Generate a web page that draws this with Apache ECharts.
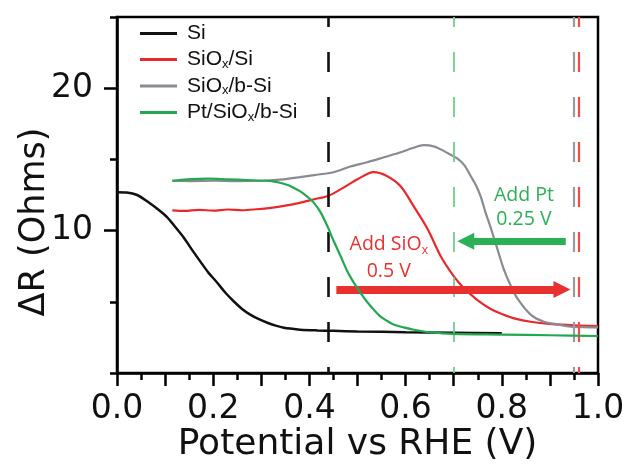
<!DOCTYPE html>
<html><head><meta charset="utf-8">
<script src="https://cdn.jsdelivr.net/npm/echarts@6/dist/echarts.min.js"></script>
<style>html,body{margin:0;padding:0;background:#fff}#c{width:622px;height:464px}</style>
</head><body><div id="c"></div>
<script>
// ---- data ----
const seriesNames = ['Si', 'SiOx/Si', 'SiOx/b-Si', 'Pt/SiOx/b-Si'];

const siX = [0, 0.02, 0.042, 0.069, 0.085, 0.104, 0.12, 0.139, 0.155, 0.173, 0.19, 0.208, 0.225, 0.243, 0.26, 0.277, 0.295, 0.3125, 0.33, 0.347, 0.365, 0.381, 0.417, 0.45, 0.5, 0.6, 0.7, 0.8];
const siY = [12.7, 12.68, 12.5, 11.9, 11.5, 10.95, 10.3, 9.5, 8.7, 7.84, 7.05, 6.36, 5.65, 5.02, 4.5, 4.1, 3.78, 3.53, 3.33, 3.18, 3.1, 3.04, 2.99, 2.96, 2.92, 2.87, 2.83, 2.8];

const sioxSiX = [0.115, 0.14, 0.17, 0.2, 0.23, 0.26, 0.29, 0.32, 0.35, 0.38, 0.41, 0.44, 0.47, 0.5, 0.533, 0.56, 0.59, 0.617, 0.646, 0.673, 0.70, 0.72, 0.75, 0.777, 0.8, 0.83, 0.86, 0.9, 0.95, 1.0];
const sioxSiY = [11.42, 11.38, 11.46, 11.4, 11.48, 11.43, 11.5, 11.6, 11.75, 11.95, 12.2, 12.45, 13.0, 13.6, 14.1, 13.85, 13.1, 11.7, 10.1, 8.2, 6.8, 6.0, 5.1, 4.5, 4.15, 3.8, 3.6, 3.45, 3.35, 3.3];

const sioxBSiX = [0.115, 0.15, 0.2, 0.25, 0.3, 0.346, 0.38, 0.41, 0.45, 0.485, 0.52, 0.555, 0.59, 0.615, 0.6375, 0.66, 0.679, 0.695, 0.708, 0.722, 0.735, 0.746, 0.756, 0.766, 0.777, 0.79, 0.804, 0.819, 0.833, 0.86, 0.8875, 0.917, 0.944, 0.97, 1.0];
const sioxBSiY = [13.5, 13.48, 13.5, 13.47, 13.5, 13.6, 13.75, 13.9, 14.1, 14.5, 14.8, 15.15, 15.5, 15.8, 16.0, 15.9, 15.6, 15.3, 15.05, 14.6, 13.85, 13.2, 12.4, 11.3, 10.2, 8.8, 7.3, 6.1, 5.2, 4.1, 3.6, 3.4, 3.25, 3.22, 3.2];

const ptX = [0.115, 0.146, 0.19, 0.23, 0.27, 0.31, 0.333, 0.35, 0.365, 0.381, 0.395, 0.408, 0.423, 0.4375, 0.45, 0.465, 0.478, 0.492, 0.507, 0.521, 0.535, 0.548, 0.562, 0.575, 0.596, 0.617, 0.658, 0.7, 0.8, 0.9, 1.0];
const ptY = [13.5, 13.6, 13.65, 13.6, 13.55, 13.5, 13.4, 13.25, 13.05, 12.75, 12.4, 12.0, 11.3, 10.3, 9.3, 8.2, 7.2, 6.36, 5.6, 4.95, 4.4, 3.96, 3.65, 3.4, 3.2, 3.04, 2.83, 2.75, 2.7, 2.65, 2.6];

const xTickLabels = [0, 0.2, 0.4, 0.6, 0.8, 1.0];
const yTickLabels = [10, 20];
const yMinorTicks = [0, 5, 15, 25];

// onset potentials (dashed lines): Si, Pt/SiOx/b-Si, SiOx/b-Si, SiOx/Si
const onsetX = [0.44, 0.698, 0.949, 0.965];

// arrows: [xStart, xEnd, y]
const arrowSiOx = [0.456, 0.925, 5.87];
const arrowPt = [0.933, 0.725, 9.26];

// annotation texts: [x, y]
const noteSiOx = [0.565, 9.0];
const noteSiOxV = [0.565, 7.14];
const notePt = [0.846, 12.44];
const notePtV = [0.846, 10.8];

// ---- styling ----
const colors = ['#111111', '#e8282b', '#8a8a93', '#22a84e'];
const dashColors = ['#111111', '#6fcf8f', '#9a9aa2', '#ee4b4b'];
const dashWidths = [2.6, 1.8, 2.2, 2.2];
const RED = '#e8312f', GREEN = '#2bb055';

function zip(xs, ys) { return xs.map((x, i) => [x, ys[i]]); }
function richName(name) {
  return name.split('Ox').map(p => p ? '{n|' + p + '}' : '').join('{n|O}{s|x}');
}

const chart = echarts.init(document.getElementById('c'), null, { renderer: 'canvas' });

const seriesData = [zip(siX, siY), zip(sioxSiX, sioxSiY), zip(sioxBSiX, sioxBSiY), zip(ptX, ptY)];

const annotSeries = {
  type: 'line', name: 'annot', data: [], silent: true, z: 1,
  markLine: {
    silent: true, symbol: 'none', animation: false,
    label: { show: false },
    emphasis: { disabled: true },
    data: onsetX.map((x, i) => ({
      xAxis: x,
      lineStyle: { color: dashColors[i], width: dashWidths[i], type: [20, 25], dashOffset: 14 }
    }))
  }
};

const arrowSeries = {
  type: 'line', name: 'arrows', data: [], silent: true, z: 5,
  markLine: {
    silent: true, animation: false,
    symbol: ['none', 'triangle'], symbolSize: 17,
    label: { show: false },
    emphasis: { disabled: true },
    data: [
      [{ coord: [arrowSiOx[0], arrowSiOx[2]], lineStyle: { color: RED, width: 8, type: 'solid' }, itemStyle: { color: RED } },
       { coord: [arrowSiOx[1], arrowSiOx[2]] }],
      [{ coord: [arrowPt[0], arrowPt[2]], lineStyle: { color: GREEN, width: 7, type: 'solid' }, itemStyle: { color: GREEN } },
       { coord: [arrowPt[1], arrowPt[2]] }]
    ]
  },
  markPoint: {
    silent: true, animation: false, symbolSize: 0,
    label: { show: true, position: 'inside', fontFamily: 'Open Sans', fontSize: 19.5 },
    data: [
      { coord: noteSiOx, label: { color: RED, formatter: '{a|Add SiO}{b|x}', rich: {
          a: { color: RED, fontFamily: 'Open Sans', fontSize: 19.5, lineHeight: 24 },
          b: { color: RED, fontFamily: 'Open Sans', fontSize: 12, lineHeight: 14, verticalAlign: 'bottom' } } } },
      { coord: noteSiOxV, label: { color: RED, formatter: '0.5 V' } },
      { coord: notePt, label: { color: GREEN, formatter: 'Add Pt' } },
      { coord: notePtV, label: { color: GREEN, formatter: '0.25 V' } }
    ]
  }
};

const option = {
  animation: false,
  backgroundColor: '#fff',
  grid: { left: 117, right: 24, top: 17, bottom: 91, show: true, borderColor: '#000', borderWidth: 2.5, backgroundColor: 'transparent', outerBoundsMode: 'none', containLabel: false },
  legend: {
    data: seriesNames, orient: 'vertical', left: 135, top: 18, itemWidth: 37, itemHeight: 3, itemGap: 5,
    icon: 'rect', selectedMode: false,
    formatter: richName,
    textStyle: {
      padding: [0, 0, 0, 5],
      rich: {
        n: { fontFamily: 'Liberation Sans', fontSize: 21, color: '#111', lineHeight: 22 },
        s: { fontFamily: 'Liberation Sans', fontSize: 13, color: '#111', lineHeight: 12, verticalAlign: 'bottom' }
      }
    }
  },
  xAxis: {
    type: 'value', min: 0, max: 1, interval: 0.1,
    name: 'Potential vs RHE (V)', nameLocation: 'middle', nameGap: 54, nameMoveOverlap: false,
    nameTextStyle: { fontFamily: 'DejaVu Sans', fontSize: 36, color: '#111' },
    axisLine: { lineStyle: { color: '#000', width: 2.5 } },
    axisTick: { length: 13, inside: false, lineStyle: { color: '#000', width: 2.5 } },
    minorTick: { show: true, splitNumber: 2, length: 7, lineStyle: { color: '#000', width: 2.5 } },
    axisLabel: { customValues: xTickLabels, formatter: v => v.toFixed(1), fontFamily: 'DejaVu Sans', fontSize: 33, color: '#111', margin: 20 },
    splitLine: { show: false }
  },
  yAxis: [{
    type: 'value', min: 0, max: 25, position: 'left',
    name: 'ΔR (Ohms)', nameLocation: 'middle', nameGap: 65, nameMoveOverlap: false,
    nameTextStyle: { fontFamily: 'DejaVu Sans', fontSize: 35, color: '#111', padding: [0, 54, 0, 0] },
    axisLine: { show: true, lineStyle: { color: '#000', width: 2.5 } },
    axisTick: { show: true, customValues: yTickLabels, length: 13, lineStyle: { color: '#000', width: 2.5 } },
    axisLabel: { customValues: yTickLabels, fontFamily: 'DejaVu Sans', fontSize: 33, color: '#111', margin: 24 },
    splitLine: { show: false }
  }, {
    type: 'value', min: 0, max: 25, position: 'left', offset: 0,
    axisLine: { show: false },
    axisTick: { show: true, customValues: yMinorTicks, length: 7, lineStyle: { color: '#000', width: 2.5 } },
    axisLabel: { show: false },
    splitLine: { show: false }
  }],
  series: [annotSeries].concat(seriesNames.map((n, i) => ({
    type: 'line', name: n, data: seriesData[i], showSymbol: false, smooth: 0.3,
    lineStyle: { color: colors[i], width: i === 0 ? 2.5 : 2.2 }, itemStyle: { color: colors[i] },
    z: 2 + i
  }))).concat([arrowSeries])
};
chart.setOption(option);
</script>
</body></html>
